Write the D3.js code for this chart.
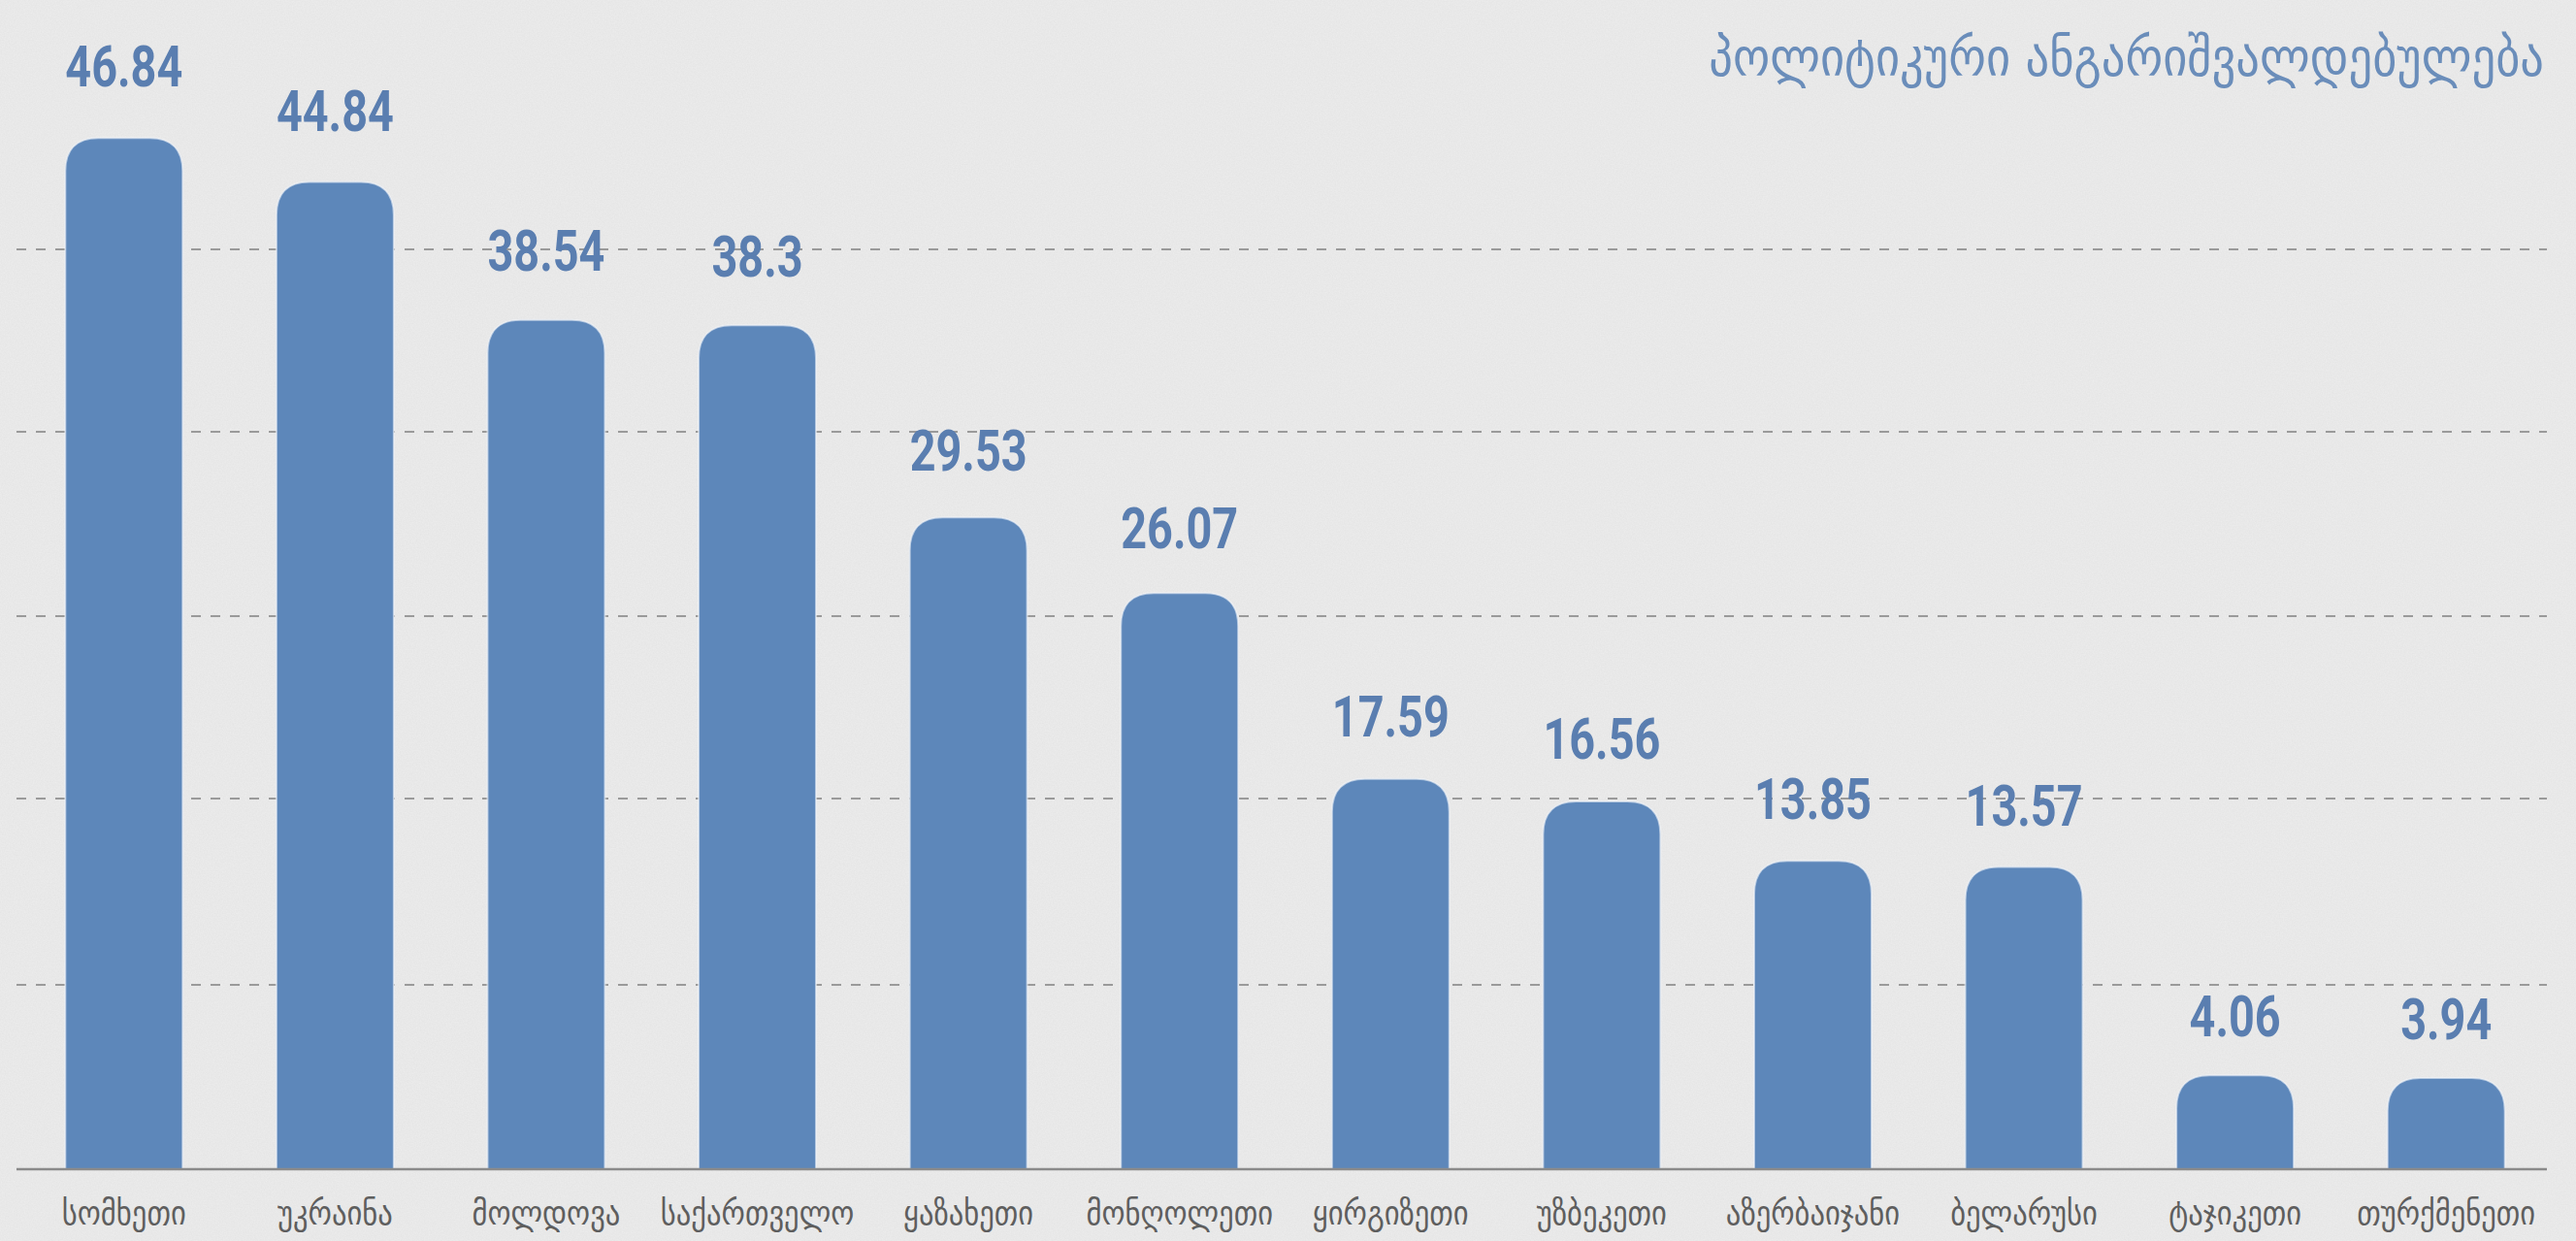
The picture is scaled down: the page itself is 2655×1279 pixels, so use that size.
<!DOCTYPE html>
<html>
<head>
<meta charset="utf-8">
<script src="https://cdn.jsdelivr.net/npm/d3@7/dist/d3.min.js"></script>
<style>
  html, body { margin: 0; padding: 0; background: #ececec; overflow: hidden; }
  svg { display: block; }
</style>
</head>
<body>
<script>
// ---- data ----
const categories = ["სომხეთი","უკრაინა","მოლდოვა","საქართველო","ყაზახეთი","მონღოლეთი",
                    "ყირგიზეთი","უზბეკეთი","აზერბაიჯანი","ბელარუსი","ტაჯიკეთი","თურქმენეთი"];
const values = [46.84, 44.84, 38.54, 38.3, 29.53, 26.07, 17.59, 16.56, 13.85, 13.57, 4.06, 3.94];
const valueLabels = ["46.84","44.84","38.54","38.3","29.53","26.07","17.59","16.56","13.85","13.57","4.06","3.94"];
const gridValues = [8.19, 16.7, 25.02, 33.44, 41.76];
const titleText = "პოლიტიკური ანგარიშვალდებულება";

const W = 2655, H = 1279;
const svg = d3.select("body").append("svg").attr("width", W).attr("height", H);

// background with subtle paper texture
const defs = svg.append("defs");
const f = defs.append("filter").attr("id","noise").attr("x",0).attr("y",0).attr("width","100%").attr("height","100%");
f.append("feTurbulence").attr("type","fractalNoise").attr("baseFrequency",0.75).attr("numOctaves",2).attr("seed",3).attr("result","n");
f.append("feColorMatrix").attr("in","n").attr("type","matrix")
  .attr("values","0 0 0 0 0.45  0 0 0 0 0.45  0 0 0 0 0.45  0 0 0 0.16 0");
svg.append("rect").attr("width",W).attr("height",H).attr("fill","#ededed");
svg.append("rect").attr("width",W).attr("height",H).attr("filter","url(#noise)");

const x = d3.scaleBand().domain(categories).range([19, 2630]).paddingInner(0.444).paddingOuter(0.222);
const y = d3.scaleLinear().domain([0, 50]).range([1200, 71]);
const yLabel = d3.scaleLinear().domain([0, 50]).range([1161, 17]);
const axisY = 1205;

// gridlines
svg.append("g").selectAll("line").data(gridValues).join("line")
  .attr("x1", 17).attr("x2", 2625)
  .attr("y1", d => y(d)).attr("y2", d => y(d))
  .attr("stroke", "#9a9a9a").attr("stroke-width", 2).attr("stroke-dasharray", "10,10");

// bars with rounded tops
const r = 34;
function barPath(d, i) {
  const x0 = x(categories[i]), w = x.bandwidth(), y0 = y(d), yb = axisY;
  const rr = Math.min(r, (yb - y0));
  return `M${x0},${yb} L${x0},${y0 + rr} C${x0},${y0 + rr * 0.35} ${x0 + rr * 0.35},${y0} ${x0 + rr},${y0} L${x0 + w - rr},${y0} C${x0 + w - rr * 0.35},${y0} ${x0 + w},${y0 + rr * 0.35} ${x0 + w},${y0 + rr} L${x0 + w},${yb} Z`;
}
svg.append("g").selectAll("path").data(values).join("path")
  .attr("d", (d, i) => barPath(d, i))
  .attr("fill", "#5d87ba")
  .attr("stroke", "#f4f7fb").attr("stroke-width", 2).attr("stroke-opacity", 0.6);

// baseline axis
const xAxis = d3.axisBottom(x).tickSize(0).tickPadding(0).tickFormat("");
const ax = svg.append("g").attr("transform", `translate(0,${axisY})`).call(xAxis);
ax.select(".domain").attr("d", `M17,0H2625`).attr("stroke", "#8a8a8a").attr("stroke-width", 2.5);

// value labels
svg.append("g").selectAll("text").data(values).join("text")
  .attr("transform", (d, i) => `translate(${x(categories[i]) + x.bandwidth() / 2},${yLabel(d)}) scale(0.78,1)`)
  .attr("text-anchor", "middle")
  .attr("font-family", "Roboto, 'DejaVu Sans', sans-serif")
  .attr("font-weight", 700)
  .attr("font-size", 60)
  .attr("fill", "#5a7eb0")
  .text((d, i) => valueLabels[i]);

// category labels
svg.append("g").selectAll("text").data(categories).join("text")
  .attr("x", d => x(d) + x.bandwidth() / 2)
  .attr("y", 1262)
  .attr("text-anchor", "middle")
  .attr("font-family", "'DejaVu Sans Condensed', 'DejaVu Sans', sans-serif")
  .attr("font-size", 34)
  .attr("fill", "#5e5e5e")
  .text(d => d);

// title
svg.append("text")
  .attr("x", 2622).attr("y", 78)
  .attr("text-anchor", "end")
  .attr("font-family", "'DejaVu Sans Condensed', 'DejaVu Sans', sans-serif")
  .attr("font-size", 54)
  .attr("fill", "#6a8dba")
  .text(titleText);
</script>
</body>
</html>
